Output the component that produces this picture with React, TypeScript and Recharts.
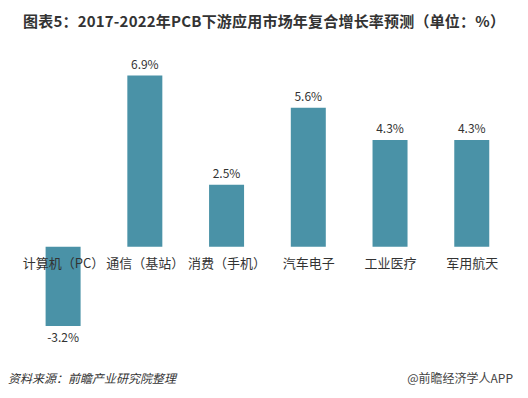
import { BarChart, Bar, XAxis, YAxis, LabelList } from 'recharts';

const categories = ['计算机（PC）', '通信（基站）', '消费（手机）', '汽车电子', '工业医疗', '军用航天'];
const cagr = [-3.2, 6.9, 2.5, 5.6, 4.3, 4.3];

const W = 528;
const H = 398;
const MARGIN = { top: 75.5, right: 15, bottom: 70, left: 22.6 };
const AXIS_H = 2;
const FONT = '"Noto Sans CJK SC", "Noto Sans", sans-serif';

const yMin = Math.min(...cagr);
const yMax = Math.max(...cagr);
const plotH = H - MARGIN.top - MARGIN.bottom - AXIS_H;
// y of the zero line inside the svg; category names sit just under it
const zeroY = MARGIN.top + (yMax / (yMax - yMin)) * plotH;

const data = categories.map((name, i) => ({ name, value: cagr[i] }));

const renderTick = (props: any) => {
  const { x, payload } = props;
  return (
    <text x={x} y={zeroY + 21} textAnchor="middle" fontSize={13} fill="#333" fontFamily={FONT}>
      {payload.value}
    </text>
  );
};

export default function App() {
  return (
    <div style={{ position: 'absolute', left: 0, top: 0, width: W, height: H, background: '#fff', fontFamily: FONT }}>
      <div
        style={{
          position: 'absolute',
          left: 23,
          top: 11,
          fontSize: 15,
          lineHeight: '20px',
          fontWeight: 'bold',
          letterSpacing: 0.2,
          color: '#333',
          whiteSpace: 'nowrap',
        }}
      >
        图表5：2017-2022年PCB下游应用市场年复合增长率预测（单位：%）
      </div>
      <BarChart width={W} height={H} data={data} margin={MARGIN} barSize={35}>
        <XAxis
          dataKey="name"
          height={AXIS_H}
          axisLine={false}
          tickLine={false}
          interval={0}
          tick={renderTick}
        />
        <YAxis hide domain={[yMin, yMax]} />
        <Bar dataKey="value" fill="#4a92a7" isAnimationActive={false}>
          <LabelList
            dataKey="value"
            position="top"
            offset={7}
            formatter={(v: any) => `${v}%`}
            style={{ fontSize: 12, fill: '#333', fontFamily: FONT }}
          />
        </Bar>
      </BarChart>
      <div
        style={{
          position: 'absolute',
          left: 8,
          top: 370,
          fontSize: 12,
          lineHeight: '16px',
          fontStyle: 'italic',
          color: '#333',
        }}
      >
        资料来源：前瞻产业研究院整理
      </div>
      <div
        style={{
          position: 'absolute',
          right: 15,
          top: 370,
          fontSize: 12,
          lineHeight: '16px',
          color: '#444',
        }}
      >
        @前瞻经济学人APP
      </div>
    </div>
  );
}
